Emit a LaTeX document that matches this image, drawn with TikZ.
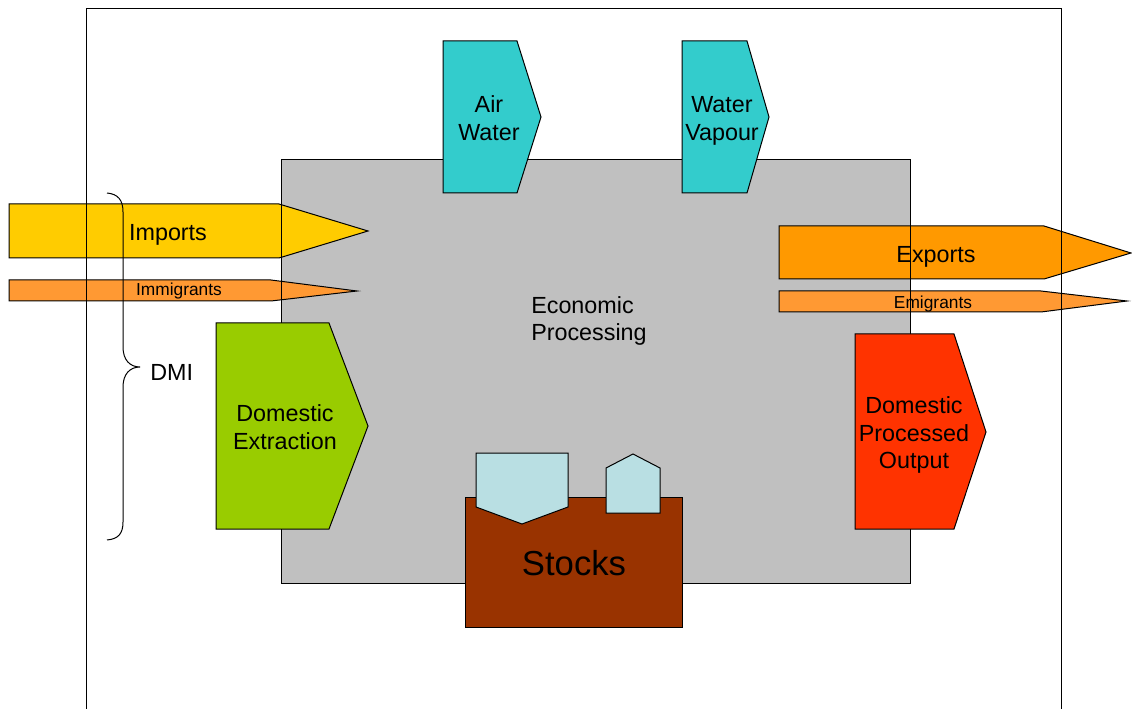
\documentclass[tikz,border=0pt]{standalone}
\usepackage{fontspec}
\setmainfont{Liberation Sans}
\definecolor{procgray}{HTML}{C0C0C0}
\definecolor{impyellow}{HTML}{FFCC00}
\definecolor{migorange}{HTML}{FF9933}
\definecolor{exporange}{HTML}{FF9900}
\definecolor{extgreen}{HTML}{99CC00}
\definecolor{dpored}{HTML}{FF3300}
\definecolor{aircyan}{HTML}{33CCCC}
\definecolor{stockbrown}{HTML}{993300}
\definecolor{stockblue}{HTML}{B9DFE3}
\tikzset{
  flow/.style={draw=black, line width=0.75pt, line join=miter},
  lbl/.style={font=\fontsize{17.5}{20.5}\selectfont, align=center, inner sep=0pt},
  smalllbl/.style={font=\fontsize{13}{15}\selectfont, inner sep=0pt},
  edge/.style={draw=black, line width=0.75pt}
}
\begin{document}
\begin{tikzpicture}[x=0.75pt, y=-0.75pt]
\useasboundingbox (0,0) rectangle (1132,709);
\clip (0,0) rectangle (1132,709);
\fill[white] (0,0) rectangle (1132,709);

% economic processing area (fill only; outline is drawn later)
\fill[procgray] (281,160) rectangle (910,583);

% material flows entering and leaving from the sides
\path[flow, fill=impyellow] (9,204) -- (279,204) -- (368,231) -- (279,258) -- (9,258) -- cycle;
\path[flow, fill=migorange] (9,280) -- (271,280) -- (357,291) -- (271,301) -- (9,301) -- cycle;
\path[flow, fill=exporange] (779,226) -- (1044,226) -- (1131,253) -- (1044,279) -- (779,279) -- cycle;
\path[flow, fill=migorange] (779,291) -- (1041,291) -- (1127,301) -- (1041,312) -- (779,312) -- cycle;

% system boundary and processing outline
\draw[edge] (86,9) rectangle (1061,730);
\draw[edge] (281,160) rectangle (910,583);

% vertical flows and domestic flows
\path[flow, fill=aircyan] (443,41) -- (517,41) -- (541,117) -- (517,193) -- (443,193) -- cycle;
\path[flow, fill=aircyan] (682,41) -- (747,41) -- (769,117) -- (747,193) -- (682,193) -- cycle;
\path[flow, fill=extgreen] (216,323) -- (329,323) -- (368,426) -- (329,529) -- (216,529) -- cycle;
\path[flow, fill=dpored] (855,334) -- (954,334) -- (986,432) -- (954,529) -- (855,529) -- cycle;

% stocks
\path[flow, fill=stockbrown] (465,497) rectangle (682,627);
\path[flow, fill=stockblue] (476,453) -- (568,453) -- (568,507) -- (522,524) -- (476,507) -- cycle;
\path[flow, fill=stockblue] (606,513) -- (660,513) -- (660,468) -- (633,454) -- (606,468) -- cycle;

% DMI brace
\draw[line width=0.75pt] (107,193) .. controls (118,194) and (123,200) .. (123,212)
  -- (123,347) .. controls (123,360) and (130,367) .. (140,367)
  .. controls (130,367) and (123,374) .. (123,387)
  -- (123,522) .. controls (123,534) and (118,539) .. (107,540);

% labels
\node[lbl] (imports) at (168,235) {Imports};
\node[smalllbl] (immigrants) at (179,291) {Immigrants};
\node[lbl] (exports) at (936,257) {Exports};
\node[smalllbl] (emigrants) at (933,304) {Emigrants};
\node[lbl] (airwater) at (489,118) {Air\\Water};
\node[lbl] (vapour) at (722,121) {Water\\Vapour};
\node[lbl, align=left, anchor=west] (econ) at (531,321) {Economic\\Processing};
\node[lbl] (domext) at (285,427) {Domestic\\Extraction};
\node[lbl] (dpo) at (914,435) {Domestic\\Processed\\Output};
\node[lbl, anchor=west] (dmi) at (150,372) {DMI};
\node[font=\fontsize{26}{30}\selectfont, inner sep=0pt] (stocks) at (574,563) {Stocks};
\end{tikzpicture}
\end{document}
